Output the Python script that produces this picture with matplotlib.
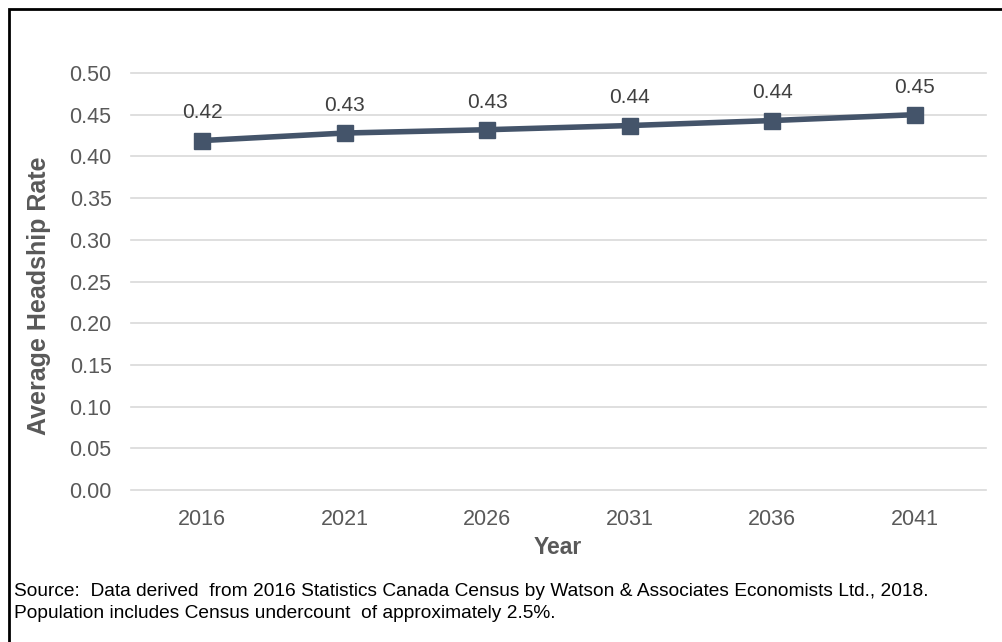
import matplotlib
matplotlib.use("Agg")
import matplotlib.pyplot as plt
from matplotlib.patches import Rectangle

years = ["2016", "2021", "2026", "2031", "2036", "2041"]
rates = [0.419, 0.428, 0.432, 0.437, 0.443, 0.450]
labels = ["0.42", "0.43", "0.43", "0.44", "0.44", "0.45"]
yticks = [0.00, 0.05, 0.10, 0.15, 0.20, 0.25, 0.30, 0.35, 0.40, 0.45, 0.50]

plt.rcParams['font.family'] = ['Liberation Sans', 'DejaVu Sans']

W, H = 1002, 642
fig = plt.figure(figsize=(W/100, H/100), dpi=100)
ax = fig.add_axes([131/W, 1-490/H, (986-131)/W, (490-73)/H])

x = list(range(len(years)))
ax.plot(x, rates, color='#44546A', lw=4, marker='s', ms=12, zorder=3)
for xi, r, lab in zip(x, rates, labels):
    ax.annotate(lab, (xi, r), xytext=(0, 13), textcoords='offset points',
                ha='center', va='bottom', fontsize=15, color='#404040')

ax.set_xlim(-0.5, len(years) - 0.5)
ax.set_ylim(0, 0.5)
ax.set_yticks(yticks)
ax.set_yticklabels([f"{v:.2f}" for v in yticks])
ax.set_xticks(x)
ax.set_xticklabels(years)
ax.tick_params(axis='both', length=0, labelsize=15.5, labelcolor='#595959')
ax.tick_params(axis='y', pad=14)
ax.tick_params(axis='x', pad=14)
ax.grid(axis='y', color='#D9D9D9', lw=1.2)
ax.set_axisbelow(True)
for gl in ax.get_ygridlines():
    gl.set_clip_on(False)
for s in ax.spines.values():
    s.set_visible(False)

ax.set_xlabel("Year", fontsize=16.5, fontweight='bold', color='#595959')
ax.set_ylabel("Average Headship Rate", fontsize=18, fontweight='bold', color='#595959')
ax.xaxis.set_label_coords((558-131)/(986-131), -(548-490)/(490-73))
ax.yaxis.set_label_coords(-(131-39)/(986-131), (490-296)/(490-73))
ax.xaxis.label.set_va('center')
ax.yaxis.label.set_va('center')

src_fam = ['Liberation Sans', 'DejaVu Sans']
fig.text(14/W, 1-592/H, "Source:  Data derived  from 2016 Statistics Canada Census by Watson & Associates Economists Ltd., 2018.",
         fontsize=13.75, va='center', ha='left', color='black', family=src_fam)
fig.text(14/W, 1-614/H, "Population includes Census undercount  of approximately 2.5%.",
         fontsize=13.75, va='center', ha='left', color='black', family=src_fam)

fig.patches.append(Rectangle((9/W, -0.1), 1.2, 1 - 9/H + 0.1, transform=fig.transFigure,
                             fill=False, ec='black', lw=2, figure=fig))

fig.savefig("out.png", dpi=100)
